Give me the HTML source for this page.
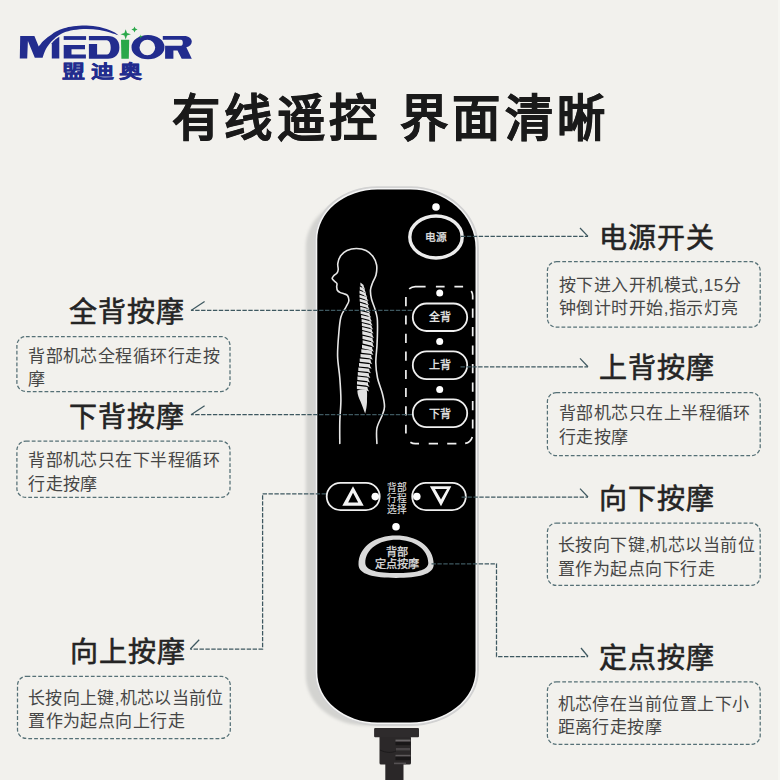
<!DOCTYPE html>
<html lang="zh-CN">
<head>
<meta charset="utf-8">
<style>
html,body{margin:0;padding:0;}
body{width:780px;height:780px;overflow:hidden;position:relative;background:#f2f1ed;font-family:"Liberation Sans",sans-serif;}
.title{position:absolute;left:171.5px;top:83px;font-size:49.5px;font-weight:700;color:#1a1a1a;white-space:nowrap;line-height:72px;letter-spacing:4.8px;word-spacing:0px;transform:scaleX(0.975);transform-origin:0 0;-webkit-text-stroke:0.5px #1a1a1a;}
.h{position:absolute;font-size:28px;font-weight:400;color:#242424;white-space:nowrap;line-height:36px;letter-spacing:1px;-webkit-text-stroke:0.6px #242424;}
.bt{position:absolute;font-size:17px;color:#464646;line-height:23.3px;letter-spacing:0.45px;white-space:nowrap;}
svg{position:absolute;left:0;top:0;}
</style>
</head>
<body>

<!-- logo -->
<svg width="200" height="90" viewBox="0 0 200 90">
  <g fill="#222c8e">
    <path d="M20.2 35.9 L34.4 35.9 L38.70 46.60 C39.42 45.72 41.52 42.87 43.00 41.30 C44.48 39.73 46.10 38.38 47.60 37.20 C49.10 36.02 50.60 35.13 52.00 34.20 C53.40 33.27 54.00 32.58 56.00 31.60 C58.00 30.62 61.10 29.18 64.00 28.30 C66.90 27.42 69.65 26.78 73.40 26.30 C77.15 25.82 82.13 25.28 86.50 25.40 C90.87 25.52 95.23 26.00 99.60 27.00 C103.97 28.00 109.50 30.02 112.70 31.40 C115.90 32.78 117.78 34.65 118.80 35.30 L118.80 35.30 C117.78 34.98 115.90 34.27 112.70 33.40 C109.50 32.53 103.97 30.85 99.60 30.10 C95.23 29.35 90.87 28.90 86.50 28.90 C82.13 28.90 77.15 29.48 73.40 30.10 C69.65 30.72 66.48 31.68 64.00 32.60 C61.52 33.52 60.25 34.45 58.50 35.60 C56.75 36.75 55.03 38.10 53.50 39.50 C51.97 40.90 50.68 42.17 49.30 44.00 C47.92 45.83 46.32 48.20 45.20 50.50 C44.08 52.80 43.03 56.58 42.60 57.80 L34.8 57.8 L27.9 40.9 L27.2 58.4 L19.8 58.4 Z"/>
    <path d="M51.8 43.2 C54 40.4 56.5 38.4 59.3 36.8 L59.3 58.6 L51.8 58.6 Z"/>
    <rect x="63.7" y="36.1" width="22.4" height="3.8"/>
    <path d="M63.7 44.9 H85 V49.2 H71.5 V54.5 H85.9 V58.6 H63.7 Z"/>
    <path d="M88.9 36.1 H108 C115 36.1 119.4 40.5 119.4 47.4 C119.4 54.3 115 58.7 108 58.7 H88.9 V44 H97.1 V54.6 H106 C109 54.6 110.7 52 110.7 47.4 C110.7 42.8 109 40.2 106 40.2 H88.9 Z"/>
    <path fill-rule="evenodd" d="M131.5 47.15 A16.5 12.15 0 1 0 164.5 47.15 A16.5 12.15 0 1 0 131.5 47.15 Z M139.5 47.5 A7.85 7.7 0 1 0 155.2 47.5 A7.85 7.7 0 1 0 139.5 47.5 Z"/>
    <path d="M162.8 35.9 H184 C189 35.9 191.8 38.5 191.8 41.5 C191.8 44.5 189.5 46.5 186.3 47.2 L191.8 58.8 H181.7 L177.5 50.5 H173.4 V58.8 H165.1 V45.8 H181 C182.2 45.8 182.8 44.5 182.8 42.8 C182.8 41 182.2 39.8 181 39.8 H162.8 Z"/>
  </g>
  <g fill="#2aa84a">
    <path d="M121 39.8 H129.2 L128.8 58.8 H121.4 Z"/>
    <path d="M125.7 29.3 L127 33 L130.9 34.3 L127 35.6 L125.7 39.5 L124.4 35.6 L120.5 34.3 L124.4 33 Z"/>
    <path d="M134.5 26.4 L135.4 28.6 L137.6 29.5 L135.4 30.4 L134.5 32.6 L133.6 30.4 L131.4 29.5 L133.6 28.6 Z"/>
    <path d="M140.8 34.4 L141.3 36.1 L143 36.6 L141.3 37.1 L140.8 38.8 L140.3 37.1 L138.6 36.6 L140.3 36.1 Z"/>
  </g>
  <g transform="translate(62.3,78) scale(1.28,1)">
    <text x="0" y="0" font-family="'Liberation Sans', sans-serif" font-weight="700" font-size="18" fill="#222c8e" stroke="#222c8e" stroke-width="0.35" letter-spacing="4">盟迪奥</text>
  </g>
</svg>

<div class="title">有线遥控 界面清晰</div>

<div class="h" style="left:68.6px;top:295.0px;">全背按摩</div>
<div class="h" style="left:69.3px;top:400.0px;">下背按摩</div>
<div class="h" style="left:69.6px;top:635.0px;">向上按摩</div>
<div class="h" style="left:599.0px;top:220.5px;">电源开关</div>
<div class="h" style="left:599.0px;top:351.0px;">上背按摩</div>
<div class="h" style="left:599.0px;top:481.5px;">向下按摩</div>
<div class="h" style="left:599.0px;top:640.5px;">定点按摩</div>

<svg width="780" height="780" viewBox="0 0 780 780">
  <g fill="none" stroke="#557076" stroke-width="1.25" stroke-dasharray="3.8 2.05">
<rect x="16.9" y="336.5" width="213.1" height="55.0" rx="9"/>
<rect x="16.9" y="441.1" width="213.1" height="56.3" rx="9"/>
<rect x="17.5" y="676.3" width="212.8" height="62.2" rx="9"/>
<rect x="547.4" y="261.7" width="212.8" height="65.5" rx="9"/>
<rect x="547.4" y="392.6" width="212.8" height="63.1" rx="9"/>
<rect x="547.4" y="523.0" width="212.8" height="62.4" rx="9"/>
<rect x="547.4" y="681.8" width="212.8" height="62.6" rx="9"/>

  </g>
</svg>
<div class="bt" style="left:28.1px;top:344.9px;">背部机芯全程循环行走按<br>摩</div>
<div class="bt" style="left:28.1px;top:449.4px;">背部机芯只在下半程循环<br>行走按摩</div>
<div class="bt" style="left:28.1px;top:687.1px;"><span style="letter-spacing:0.33px">长按向上键,机芯以当前位</span><br>置作为起点向上行走</div>
<div class="bt" style="left:559.0px;top:273.7px;">按下进入开机模式,15分<br>钟倒计时开始,指示灯亮</div>
<div class="bt" style="left:559.0px;top:402.3px;">背部机芯只在上半程循环<br>行走按摩</div>
<div class="bt" style="left:558.0px;top:534.3px;">长按向下键,机芯以当前位<br>置作为起点向下行走</div>
<div class="bt" style="left:557.5px;top:692.9px;">机芯停在当前位置上下小<br>距离行走按摩</div>

<!-- remote -->
<svg width="780" height="780" viewBox="0 0 780 780">
  <defs>
    <filter id="blur1" x="-10%" y="-10%" width="120%" height="120%"><feGaussianBlur stdDeviation="1.5"/></filter>
    <filter id="blur2" x="-10%" y="-10%" width="120%" height="120%"><feGaussianBlur stdDeviation="0.6"/></filter>
  </defs>
  <!-- side/shadow -->
  <path d="M365.80 196.60 L402.50 196.60 A65.00 58.00 0 0 1 467.50 254.60 L467.50 673.50 A65.00 52.00 0 0 1 402.50 725.50 L365.80 725.50 A60.00 50.00 0 0 1 305.80 675.50 L305.80 246.60 A60.00 50.00 0 0 1 365.80 196.60 Z" fill="#d3d3d0" filter="url(#blur1)"/>
  <!-- rim -->
  <path d="M377.30 186.20 L410.50 186.20 A68.40 61.40 0 0 1 478.90 247.60 L478.90 670.50 A68.40 55.40 0 0 1 410.50 725.90 L377.30 725.90 A63.40 53.40 0 0 1 313.90 672.50 L313.90 239.60 A63.40 53.40 0 0 1 377.30 186.20 Z" fill="#d2d2d2" filter="url(#blur2)"/>
  <path d="M377.30 188.10 L410.50 188.10 A66.50 59.50 0 0 1 477.00 247.60 L477.00 670.50 A66.50 53.50 0 0 1 410.50 724.00 L377.30 724.00 A61.50 51.50 0 0 1 315.80 672.50 L315.80 239.60 A61.50 51.50 0 0 1 377.30 188.10 Z" fill="#f5f5f5"/>
  <!-- face -->
  <path d="M377.30 189.60 L410.50 189.60 A65.00 58.00 0 0 1 475.50 247.60 L475.50 670.50 A65.00 52.00 0 0 1 410.50 722.50 L377.30 722.50 A60.00 50.00 0 0 1 317.30 672.50 L317.30 239.60 A60.00 50.00 0 0 1 377.30 189.60 Z" fill="#000"/>

  <!-- cable -->
  <rect x="385.3" y="762" width="18.2" height="18" fill="#2a2728"/>
  <rect x="379.5" y="736" width="31.5" height="28.6" rx="1.5" fill="#2b2829"/>
  <path d="M380 750 C 386 753, 392 753, 396 751" fill="none" stroke="#1c1a1b" stroke-width="1"/>
  <rect x="395.5" y="739.6" width="15" height="2" fill="#6a6668"/>
  <rect x="395.5" y="741.8" width="15" height="3.4" fill="#191718"/>
  <rect x="396" y="748" width="14" height="2.4" fill="#4a4648"/>
  <rect x="395.5" y="754.8" width="15" height="1.8" fill="#5e5a5c"/>
  <rect x="395.5" y="756.6" width="15" height="3.6" fill="#191718"/>
  <rect x="394" y="762.6" width="12" height="1.6" fill="#555153"/>
  <rect x="374.1" y="728" width="44.9" height="9.3" rx="1" fill="#2e2b2c"/>

  <!-- power -->
  <circle cx="436" cy="207" r="3.8" fill="#fff"/>
  <ellipse cx="436" cy="237" rx="26.2" ry="21" fill="none" stroke="#ececec" stroke-width="3.4"/>
  <text x="435.9" y="241.3" text-anchor="middle" font-family="'Liberation Sans', sans-serif" font-size="10.7" fill="#e4e4e4" stroke="#e4e4e4" stroke-width="0.3">电源</text>

  <!-- body outline -->
  <path d="M339.80 443.50 C339.80 439.87 339.62 428.95 339.80 421.70 C339.98 414.45 340.90 407.28 340.90 400.00 C340.90 392.72 340.35 385.28 339.80 378.00 C339.25 370.72 337.78 363.55 337.60 356.30 C337.42 349.05 338.15 341.05 338.70 334.50 C339.25 327.95 339.68 321.58 340.90 317.00 C342.12 312.42 344.68 309.67 346.00 307.00 C347.32 304.33 348.55 302.92 348.80 301.00 C349.05 299.08 348.30 296.70 347.50 295.50 C346.70 294.30 345.20 294.28 344.00 293.80 C342.80 293.32 341.38 293.15 340.30 292.60 C339.22 292.05 338.10 291.43 337.50 290.50 C336.90 289.57 336.80 288.17 336.70 287.00 C336.60 285.83 337.27 284.45 336.90 283.50 C336.53 282.55 335.28 282.13 334.50 281.30 C333.72 280.47 332.37 279.38 332.20 278.50 C332.03 277.62 332.70 276.92 333.50 276.00 C334.30 275.08 336.22 274.08 337.00 273.00 C337.78 271.92 338.07 271.08 338.20 269.50 C338.33 267.92 337.42 265.75 337.80 263.50 C338.18 261.25 338.97 258.17 340.50 256.00 C342.03 253.83 344.35 251.75 347.00 250.50 C349.65 249.25 353.23 248.50 356.40 248.50 C359.57 248.50 363.23 249.17 366.00 250.50 C368.77 251.83 371.23 254.08 373.00 256.50 C374.77 258.92 376.10 261.92 376.60 265.00 C377.10 268.08 376.68 272.00 376.00 275.00 C375.32 278.00 373.42 280.50 372.50 283.00 C371.58 285.50 370.67 287.33 370.50 290.00 C370.33 292.67 370.80 295.95 371.50 299.00 C372.20 302.05 373.75 305.13 374.70 308.30 C375.65 311.47 376.73 314.38 377.20 318.00 C377.67 321.62 377.53 325.43 377.50 330.00 C377.47 334.57 377.28 339.93 377.00 345.40 C376.72 350.87 375.72 357.37 375.80 362.80 C375.88 368.23 376.42 372.92 377.50 378.00 C378.58 383.08 381.13 388.57 382.30 393.30 C383.47 398.03 384.50 402.78 384.50 406.40 C384.50 410.02 383.57 411.37 382.30 415.00 C381.03 418.63 377.80 423.45 376.90 428.20 C376.00 432.95 376.90 440.95 376.90 443.50" fill="none" stroke="#e6e6e6" stroke-width="1.6" stroke-linecap="round" stroke-linejoin="round"/>
  <!-- spine -->
  <g fill="#e2e2e2"><path d="M360.4 282.5 L363.6 284.9 L363.6 287.8 L360.4 285.4 Z"/><path d="M362.6 284.9 L365.2 289.0 L362.1 287.8 Z"/><path d="M359.8 286.6 L364.7 288.9 L364.7 291.8 L359.8 289.4 Z"/><path d="M363.7 288.9 L366.3 293.0 L363.2 291.8 Z"/><path d="M359.5 290.6 L365.8 293.0 L365.8 295.9 L359.5 293.5 Z"/><path d="M364.8 293.0 L367.4 297.1 L364.3 295.9 Z"/><path d="M359.5 294.7 L366.9 297.1 L366.9 299.9 L359.5 297.6 Z"/><path d="M365.9 297.1 L368.5 301.1 L365.4 299.9 Z"/><path d="M359.7 298.7 L367.5 301.1 L367.5 304.0 L359.7 301.6 Z"/><path d="M366.5 301.1 L369.1 305.2 L366.0 304.0 Z"/><path d="M360.0 302.8 L368.1 305.2 L368.1 308.1 L360.0 305.7 Z"/><path d="M367.1 305.2 L369.7 309.2 L366.6 308.1 Z"/><path d="M360.3 306.8 L368.9 309.2 L368.9 312.1 L360.3 309.7 Z"/><path d="M367.9 309.2 L370.5 313.3 L367.4 312.1 Z"/><path d="M360.6 310.9 L369.6 313.3 L369.6 316.2 L360.6 313.8 Z"/><path d="M368.6 313.3 L371.2 317.4 L368.1 316.2 Z"/><path d="M361.1 314.9 L370.4 317.3 L370.4 320.2 L361.1 317.8 Z"/><path d="M369.4 317.3 L372.0 321.4 L368.9 320.2 Z"/><path d="M361.6 319.0 L371.1 321.4 L371.1 324.3 L361.6 321.9 Z"/><path d="M370.1 321.4 L372.7 325.5 L369.6 324.3 Z"/><path d="M361.9 323.0 L371.6 325.4 L371.6 328.3 L361.9 325.9 Z"/><path d="M370.6 325.4 L373.2 329.5 L370.1 328.3 Z"/><path d="M362.1 327.1 L372.0 329.5 L372.0 332.4 L362.1 330.0 Z"/><path d="M371.0 329.5 L373.6 333.6 L370.5 332.4 Z"/><path d="M362.3 331.1 L372.3 333.5 L372.3 336.9 L362.3 334.5 Z"/><path d="M371.3 333.5 L373.9 338.1 L370.8 336.9 Z"/><path d="M362.5 335.7 L372.5 338.1 L372.5 341.5 L362.5 339.1 Z"/><path d="M371.5 338.1 L374.1 342.7 L371.0 341.5 Z"/><path d="M362.6 340.2 L372.6 342.6 L372.6 346.0 L362.6 343.6 Z"/><path d="M371.6 342.6 L374.2 347.2 L371.1 346.0 Z"/><path d="M362.0 344.8 L372.2 347.2 L372.2 350.6 L362.0 348.2 Z"/><path d="M371.2 347.2 L373.8 351.8 L370.7 350.6 Z"/><path d="M361.3 349.3 L371.8 350.5 L371.8 353.9 L361.3 352.7 Z"/><path d="M370.8 350.5 L373.4 355.1 L370.3 353.9 Z"/><path d="M360.5 353.9 L371.2 355.1 L371.2 358.5 L360.5 357.3 Z"/><path d="M370.2 355.1 L372.8 359.7 L369.7 358.5 Z"/><path d="M359.7 358.4 L370.6 359.6 L370.6 363.0 L359.7 361.8 Z"/><path d="M369.6 359.6 L372.2 364.2 L369.1 363.0 Z"/><path d="M359.0 363.0 L370.0 364.2 L370.0 367.6 L359.0 366.4 Z"/><path d="M369.0 364.2 L371.6 368.8 L368.5 367.6 Z"/><path d="M358.3 367.5 L369.3 368.7 L369.3 372.1 L358.3 370.9 Z"/><path d="M368.3 368.7 L370.9 373.3 L367.8 372.1 Z"/><path d="M357.8 372.1 L368.8 373.3 L368.8 376.7 L357.8 375.5 Z"/><path d="M367.8 373.3 L370.4 377.9 L367.3 376.7 Z"/><path d="M357.4 376.6 L368.4 377.8 L368.4 381.2 L357.4 380.0 Z"/><path d="M367.4 377.8 L370.0 382.4 L366.9 381.2 Z"/><path d="M357.0 381.2 L368.0 382.4 L368.0 385.8 L357.0 384.6 Z"/><path d="M367.0 382.4 L369.6 387.0 L366.5 385.8 Z"/><path d="M356.9 385.7 L367.5 386.9 L367.5 390.3 L356.9 389.1 Z"/><path d="M366.5 386.9 L369.1 391.5 L366.0 390.3 Z"/><path d="M357.3 390.5 C 360 389.5, 364 389.2, 366.8 390.2 C 367.5 394, 366.8 398, 367 402 C 366.8 406, 366.2 410, 365.2 413.5 C 364 411, 362.5 406, 360.5 401.5 C 359 398, 357.5 395, 357.3 390.5 Z"/></g>

  <!-- group dashed box -->
  <path d="M409.17 288.93 A9.5 9.5 0 0 1 415.40 286.60 L425.6 286.60 M435.90 286.60 L444.60 286.60 M454.40 286.60 L463.10 286.60 M471.26 291.07 A9.5 9.5 0 0 1 472.70 296.10 L472.70 299.4 M472.70 308.60 L472.70 317.80 M472.70 327.00 L472.70 336.30 M472.70 345.50 L472.70 354.80 M472.70 364.00 L472.70 373.20 M472.70 382.50 L472.70 391.70 M472.70 401.00 L472.70 410.20 M472.70 419.40 L472.70 428.60 M472.28 436.88 A9.5 9.5 0 0 1 465.18 443.39 M447.20 443.60 L456.40 443.60 M428.70 443.60 L438.00 443.60 M419 443.60 L415.40 443.60 A9.5 9.5 0 0 1 410.37 442.16 M405.90 296.90 L405.90 306.20 M405.90 315.40 L405.90 324.60 M405.90 333.80 L405.90 343.10 M405.90 351.50 L405.90 360.80 M405.90 370.10 L405.90 379.10 M405.90 388.10 L405.90 397.10 M405.90 406.20 L405.90 415.40 M405.90 424.80 L405.90 433.50" fill="none" stroke="#f0f0f0" stroke-width="1.7"/>
  <g fill="#fff">
    <circle cx="439.7" cy="293" r="3.5"/>
    <circle cx="439.7" cy="341.5" r="3.5"/>
    <circle cx="439.7" cy="389.6" r="3.5"/>
  </g>
  <g fill="none" stroke="#f0f0f0" stroke-width="1.8">
    <rect x="412.8" y="303.5" width="54.4" height="27.5" rx="13.75"/>
    <rect x="412.8" y="351.4" width="54.4" height="27.7" rx="13.85"/>
    <rect x="412.8" y="399.4" width="54.4" height="27.7" rx="13.85"/>
  </g>
  <g font-family="'Liberation Sans', sans-serif" font-size="11" fill="#ececec" stroke="#ececec" stroke-width="0.3" text-anchor="middle">
    <text x="440" y="321.3">全背</text>
    <text x="440" y="369.1">上背</text>
    <text x="440" y="417.8">下背</text>
  </g>

  <!-- up/down -->
  <g fill="none" stroke="#f0f0f0" stroke-width="1.8">
    <rect x="326.7" y="482.8" width="53" height="27.4" rx="13.7"/>
    <rect x="412.2" y="482.8" width="53.6" height="27.4" rx="13.7"/>
  </g>
  <g fill="#f4f4f4" fill-rule="evenodd">
    <path d="M353 486.3 L342.3 505.8 L363.7 505.8 Z M353 492.7 L348.2 502.6 L358.2 502.6 Z"/>
    <path d="M429.9 486.3 L451.3 486.3 L441 506.2 Z M435 489.1 L447 489.1 L441 499.5 Z"/>
  </g>
  <g fill="#fff">
    <circle cx="375.3" cy="496.6" r="3.8"/>
    <circle cx="416.8" cy="496.6" r="3.8"/>
    <circle cx="396" cy="526.8" r="3.8"/>
  </g>
  <g font-family="'Liberation Sans', sans-serif" font-size="9.7" fill="#dcdcdc" stroke="#dcdcdc" stroke-width="0.15" text-anchor="middle">
    <text x="396.7" y="491.3">背部</text>
    <text x="396.7" y="502.1">行程</text>
    <text x="396.7" y="512.9">选择</text>
  </g>

  <!-- dome -->
  <path fill-rule="evenodd" fill="#d9d9d9" d="M358.5 564.5 C358.5 546, 376 535.4, 396 535.4 C416 535.4, 433.7 546, 433.7 564.5 C433.7 574.5, 418 577.9, 396 577.9 C374 577.9, 358.5 574.5, 358.5 564.5 Z M365.3 563 C365.3 549, 379 539.7, 396.5 539.7 C414 539.7, 428.3 549, 428.3 563 C428.3 570.5, 415 573.1, 396.5 573.1 C378 573.1, 365.3 570.5, 365.3 563 Z"/>
  <g font-family="'Liberation Sans', sans-serif" font-size="11.2" fill="#e0e0e0" stroke="#e0e0e0" stroke-width="0.25" text-anchor="middle">
    <text x="396.5" y="555.6">背部</text>
    <text x="396.5" y="568">定点按摩</text>
  </g>

  <!-- leader lines -->
  <g fill="none" stroke="#3e5860" stroke-width="1.25" stroke-dasharray="4.4 1.5">
    <path d="M461 236.4 L588 236.4"/>
    <path d="M460.5 366.8 L588 366.8"/>
    <path d="M461.6 497 L588 497"/>
    <path d="M431.5 563.8 L496.5 563.8 L496.5 656.5 L588 656.5"/>
    <path d="M412 310.4 L191 310.4"/>
    <path d="M412 414.7 L191 414.7"/>
    <path d="M326 493.8 L262.6 493.8 L262.6 649 L190.3 649"/>
  </g>
  <g fill="none" stroke="#3e5860" stroke-width="1.25">
    <path d="M580 228 L588 236.4"/>
    <path d="M580 358.4 L588 366.8"/>
    <path d="M580 488.6 L588 497"/>
    <path d="M581 648 L588 656.5"/>
    <path d="M191 310.4 L204.6 301.5"/>
    <path d="M191 414.7 L204.6 405.8"/>
    <path d="M190.3 649 L199.2 639.7"/>
  </g>
</svg>

<div style="position:absolute;right:0;top:0;width:2px;height:780px;background:#f6f6f2"></div>
</body>
</html>
